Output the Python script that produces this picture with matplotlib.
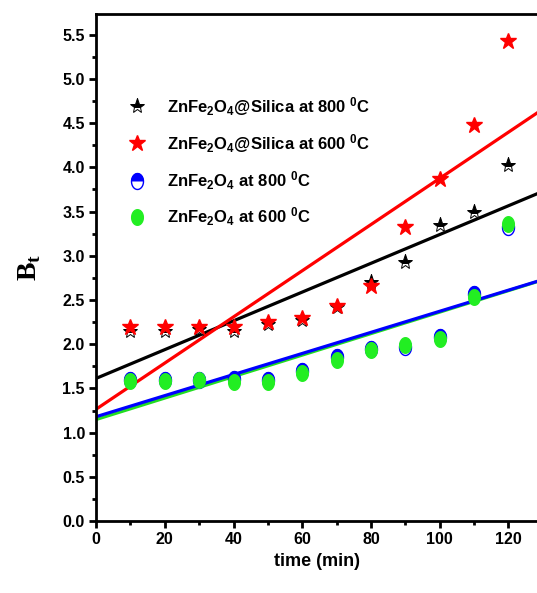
import numpy as np
import matplotlib
matplotlib.use("Agg")
import matplotlib.pyplot as plt
from matplotlib.path import Path
from matplotlib.legend_handler import HandlerTuple
from matplotlib.ticker import MultipleLocator, FormatStrFormatter

# données
t = np.array([10, 20, 30, 40, 50, 60, 70, 80, 90, 100, 110, 120])
bt_si800 = [2.15, 2.15, 2.17, 2.15, 2.23, 2.27, 2.42, 2.70, 2.93, 3.35, 3.50, 4.03]
bt_si600 = [2.20, 2.20, 2.20, 2.20, 2.25, 2.30, 2.43, 2.66, 3.32, 3.87, 4.48, 5.43]
bt_zf800 = [1.60, 1.60, 1.60, 1.61, 1.60, 1.70, 1.85, 1.95, 1.97, 2.08, 2.57, 3.33]
bt_zf600 = [1.58, 1.58, 1.59, 1.57, 1.57, 1.67, 1.82, 1.93, 1.99, 2.06, 2.53, 3.36]

labels = [r'ZnFe$_2$O$_4$@Silica at 800 $^0$C',
          r'ZnFe$_2$O$_4$@Silica at 600 $^0$C',
          r'ZnFe$_2$O$_4$ at 800 $^0$C',
          r'ZnFe$_2$O$_4$ at 600 $^0$C']

plt.rcParams['font.family'] = ['Liberation Sans', 'DejaVu Sans']
plt.rcParams['font.weight'] = 'bold'
plt.rcParams['mathtext.fontset'] = 'custom'
plt.rcParams['mathtext.bf'] = 'Liberation Sans:bold'
plt.rcParams['mathtext.rm'] = 'Liberation Sans:bold'
plt.rcParams['mathtext.default'] = 'bf'

# marqueurs ellipse (les cercles sont étirés verticalement)
th = np.linspace(0, 2 * np.pi, 60)
ellipse = Path(np.column_stack([0.75 * np.cos(th), np.sin(th)]))
th2 = np.linspace(0, np.pi, 30)
half = Path(np.column_stack([0.75 * np.cos(th2), np.sin(th2)]))

fig = plt.figure(figsize=(5.37, 5.93), dpi=100)
ax = fig.add_axes([0.1788, 0.1214, 0.8212, 0.855])

xl = np.array([0, 130])
lw = 2.3
series = [(bt_zf600, '#22dd22'), (bt_zf800, 'blue'), (bt_si800, 'black'), (bt_si600, 'red')]
for y, c in series:
    p = np.polyfit(t, y, 1)
    ax.plot(xl, np.polyval(p, xl), color=c, lw=lw, zorder=2)

h1, = ax.plot(t, bt_si800, ls='none', marker='*', ms=11, mfc='black', mfcalt='white',
              fillstyle='top', mec='black', mew=0.7, zorder=4)
h2, = ax.plot(t, bt_si600, ls='none', marker='*', ms=12, mfc='red', mec='red', zorder=5)
h3a, = ax.plot(t, bt_zf800, ls='none', marker=ellipse, ms=11.5, mfc='white', mec='blue', mew=1, zorder=3)
h3b, = ax.plot(t, bt_zf800, ls='none', marker=half, ms=11.5, mfc='blue', mec='blue', mew=0.5, zorder=3)
h4, = ax.plot(t, bt_zf600, ls='none', marker=ellipse, ms=11.2, mfc='#22ee22', mec='#22ee22', zorder=3.5)

leg = ax.legend([h1, h2, (h3a, h3b), h4], labels, loc='upper left',
                bbox_to_anchor=(0.04, 0.87), frameon=False, fontsize=12,
                handlelength=1.0, handletextpad=1.3, labelspacing=0.85,
                handler_map={tuple: HandlerTuple(ndivide=1, pad=0)})

ax.set_xlim(0, 128.3)
ax.set_ylim(0, 5.735)
ax.xaxis.set_major_locator(MultipleLocator(20))
ax.xaxis.set_minor_locator(MultipleLocator(10))
ax.yaxis.set_major_locator(MultipleLocator(0.5))
ax.yaxis.set_minor_locator(MultipleLocator(0.25))
ax.yaxis.set_major_formatter(FormatStrFormatter('%.1f'))
ax.tick_params(which='major', direction='out', length=5, width=2, labelsize=11.5, pad=3)
ax.tick_params(which='minor', direction='out', length=3, width=2)
ax.spines['right'].set_visible(False)
for s in ['left', 'bottom', 'top']:
    ax.spines[s].set_linewidth(2)
ax.tick_params(top=False, right=False)

ax.set_xlabel('time (min)', fontsize=13, fontweight='bold', labelpad=4)
ax.set_ylabel(r'B$_\mathregular{t}$', fontsize=20, fontweight='bold',
              family=['Liberation Serif'], labelpad=14)

fig.savefig('out.png', dpi=100)
